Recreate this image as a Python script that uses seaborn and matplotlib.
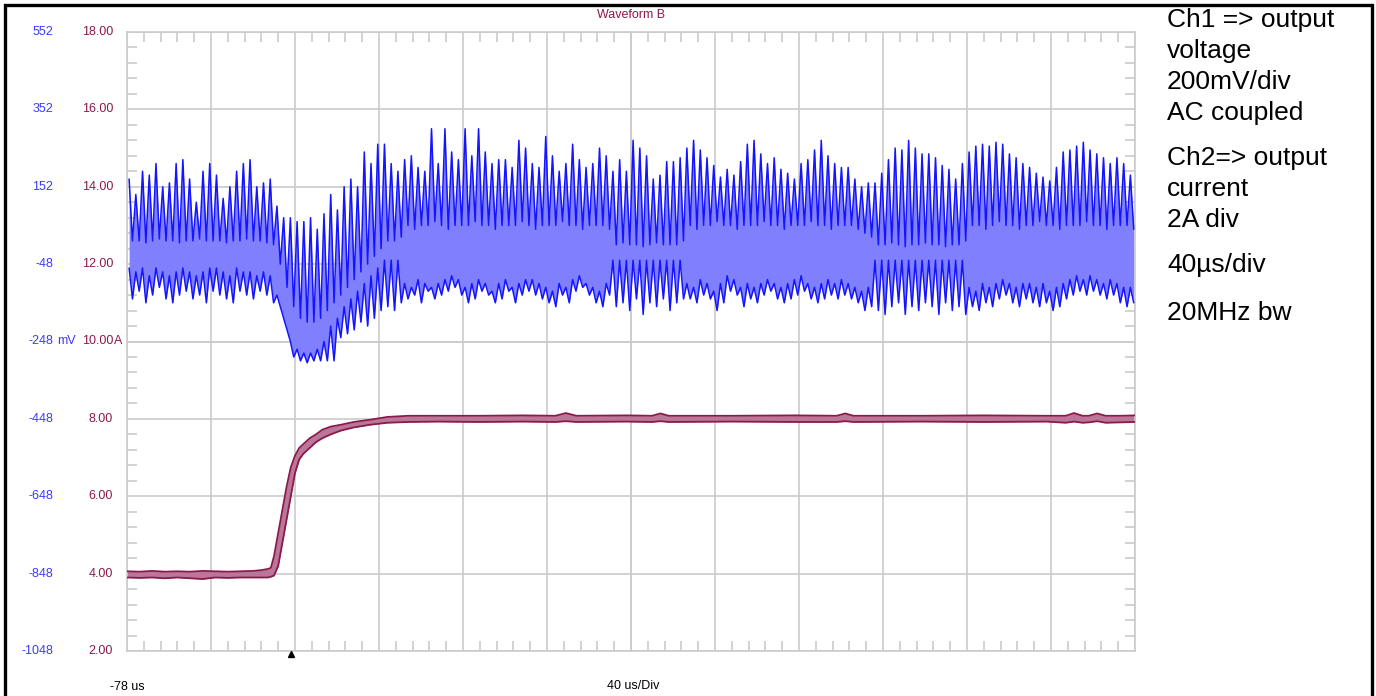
"""
Scope capture: output voltage ripple (Ch1) and output current step (Ch2)
"""

import numpy as np
import matplotlib
matplotlib.use("Agg")
import matplotlib.pyplot as plt
import matplotlib.transforms as mtransforms
from matplotlib.patches import Rectangle
from matplotlib.ticker import FixedLocator
import seaborn as sns

# ---- Ch1 (output voltage, drawn on the 2A/div scale), one entry per switching spike ----
ch1_t0 = -77.0   # us, first spike
ch1_dt = 3.2     # us between spikes

ch1_peak = [14.2, 13.8, 14.4, 14.3, 14.6, 14.0, 14.1, 14.6, 14.7, 14.2,
            13.6, 14.4, 14.6, 14.3, 13.7, 14.0, 14.4, 14.6, 14.7, 14.0,
            14.1, 14.2, 13.5, 13.2, 13.2, 13.1, 13.1, 13.2, 12.9, 13.3,
            13.8, 13.4, 14.0, 14.2, 14.0, 14.9, 14.6, 15.1,
            15.1, 14.6, 14.4, 14.7, 14.8, 14.5, 14.4, 15.5, 14.6, 15.5,
            14.9, 14.7, 15.5, 14.8, 15.5, 14.9, 14.6, 14.7, 14.7, 14.5,
            15.2, 15.0, 14.6, 14.5, 15.3, 14.8, 14.4, 14.6, 15.1, 14.7,
            14.5, 14.6, 15.0, 14.8, 14.4, 14.7, 14.4,
            15.2, 15.0, 14.8, 14.2, 14.3, 14.65, 14.65, 14.75, 15.0, 15.2,
            14.95, 14.75, 14.55, 14.25, 14.45, 14.3, 14.65, 15.1, 15.2, 14.85,
            14.6, 14.75, 14.45, 14.35, 14.2, 14.6, 14.7, 14.95, 15.2, 14.8,
            14.6, 14.5, 14.5, 14.2, 14.0, 14.1, 14.1, 14.35,
            14.7, 15.0, 14.95, 15.2, 15.0, 14.85, 14.85, 14.75, 14.55, 14.45,
            14.2, 14.6, 14.9, 15.05, 15.1, 15.05, 15.15, 15.1, 14.85, 14.75,
            14.6, 14.5, 14.35, 14.25, 14.15, 14.5, 14.9, 14.95, 15.05, 15.15,
            14.95, 14.85, 14.75, 14.6, 14.75, 14.6, 14.3]

ch1_hi_floor = [12.6, 12.6, 12.55, 12.6, 12.65, 12.6, 12.6, 12.55, 12.6, 12.6,
                12.65, 12.6, 12.6, 12.6, 12.55, 12.6, 12.6, 12.65, 12.6, 12.6,
                12.55, 12.5,
                12.0, 11.4, 10.9, 10.6, 10.5, 10.5, 10.6, 10.8, 11.0, 11.2,
                11.4, 11.6, 11.8, 12.0, 12.2, 12.4,
                12.6, 12.6, 12.7,
                13.0, 12.9, 13.0, 13.0, 13.1, 13.0, 12.9, 13.0, 13.0, 13.0,
                13.1, 13.0, 13.0, 12.9, 13.0, 13.0, 13.0, 13.1, 13.0, 12.9,
                13.0, 13.0, 13.0, 13.1, 13.0, 13.0, 12.9, 13.0, 13.0, 13.0,
                12.9,
                12.5, 12.55, 12.5, 12.5, 12.45, 12.5, 12.55, 12.5, 12.5, 12.5,
                12.6,
                13.0, 12.9, 13.0, 13.0, 13.1, 13.0, 13.0, 12.9, 13.0, 13.0,
                13.0, 13.1, 13.0, 13.0, 12.9, 13.0, 13.0, 13.0, 13.1, 13.0,
                13.0, 12.9, 13.0, 13.0, 13.0, 12.9, 12.8, 12.7,
                12.5, 12.5, 12.55, 12.5, 12.45, 12.5, 12.5, 12.55, 12.5, 12.5,
                12.45, 12.5, 12.5, 12.6,
                13.0, 13.0, 12.9, 13.0, 13.1, 13.0, 13.0, 12.9, 13.0, 13.0,
                13.1, 13.0, 13.0, 12.9, 13.0, 13.0, 13.0, 13.1, 13.0, 13.0,
                12.9, 13.0, 13.0, 13.0, 12.9]

ch1_lo_floor = [11.9, 11.8, 11.9, 11.7, 11.9, 11.8, 11.7, 11.8, 11.9, 11.8,
                11.7, 11.8, 11.9, 11.9, 11.8, 11.7, 11.9, 11.8, 11.8, 11.7,
                11.8, 11.7,
                11.2, 10.6, 10.0, 9.8, 9.7, 9.7, 9.8, 10.0, 10.4, 10.6,
                10.9, 11.1, 11.3, 11.5, 11.7, 11.9,
                12.1, 12.1, 12.1,
                11.5, 11.4, 11.6, 11.5, 11.4, 11.5, 11.6, 11.7, 11.6, 11.4,
                11.5, 11.6, 11.5, 11.3, 11.5, 11.6, 11.4, 11.5, 11.6, 11.6,
                11.5, 11.4, 11.3, 11.5, 11.4, 11.6, 11.7, 11.5, 11.4, 11.3,
                11.5,
                12.1, 12.1, 12.1, 12.1, 12.1, 12.1, 12.1, 12.1, 12.1, 12.1,
                12.1,
                11.5, 11.4, 11.6, 11.5, 11.3, 11.5, 11.7, 11.6, 11.4, 11.5,
                11.4, 11.5, 11.6, 11.5, 11.4, 11.5, 11.6, 11.7, 11.5, 11.4,
                11.5, 11.6, 11.5, 11.6, 11.5, 11.4, 11.3, 11.4,
                12.1, 12.1, 12.1, 12.1, 12.1, 12.1, 12.1, 12.1, 12.1, 12.1,
                12.1, 12.1, 12.1, 12.1,
                11.4, 11.3, 11.5, 11.4, 11.5, 11.6, 11.5, 11.4, 11.5, 11.5,
                11.4, 11.5, 11.3, 11.4, 11.5, 11.6, 11.7, 11.6, 11.7, 11.6,
                11.5, 11.6, 11.5, 11.4, 11.4]

ch1_valley = [11.1, 11.3, 11.0, 11.2, 11.4, 11.1, 11.0, 11.2, 11.3, 11.1,
              11.2, 11.0, 11.3, 11.2, 11.1, 11.0, 11.3, 11.2, 11.1, 11.3,
              11.2, 11.0,
              10.9, 10.3, 9.6, 9.5, 9.45, 9.5, 9.5, 9.5, 9.5, 10.1,
              10.2, 10.3, 10.5, 10.4, 10.6, 10.8,
              10.9, 10.8, 11.0,
              11.1, 11.2, 11.0, 11.3, 11.1, 11.2, 11.3, 11.4, 11.2, 11.0,
              11.1, 11.3, 11.2, 11.0, 11.1, 11.3, 11.0, 11.2, 11.3, 11.2,
              11.1, 11.0, 10.9, 11.2, 11.0, 11.3, 11.4, 11.2, 11.0, 10.9,
              11.2,
              10.9, 11.0, 10.8, 11.1, 10.7, 11.0, 10.9, 11.1, 10.8, 11.0,
              11.1,
              11.1, 11.0, 11.2, 11.1, 10.8, 11.0, 11.3, 11.2, 10.9, 11.1,
              11.0, 11.2, 11.3, 11.1, 11.0, 11.1, 11.2, 11.3, 11.1, 11.0,
              11.1, 11.2, 11.1, 11.2, 11.1, 11.0, 10.8, 10.9,
              10.8, 10.7, 10.9, 11.0, 10.7, 10.9, 10.8, 11.0, 10.9, 10.7,
              11.0, 10.8, 10.9, 10.7,
              10.9, 10.8, 11.0, 10.9, 11.1, 11.2, 11.0, 10.9, 11.1, 11.0,
              10.9, 11.0, 10.8, 10.9, 11.1, 11.2, 11.3, 11.2, 11.3, 11.2,
              11.1, 11.2, 11.0, 10.9, 11.0]

# ---- Ch2 (output current, A): upper / lower edge of the trace band ----
ch2_t = [-78, -72, -66, -60, -54, -48, -42, -36, -30, -24, -18, -14, -11, -9.5,
         -8, -6, -4, -2, 0, 2, 4, 6, 9, 12, 15, 19, 24, 30, 38, 46, 56, 70,
         90, 110, 126, 131, 136, 160, 172, 176, 180, 210, 240, 260, 264, 268,
         300, 330, 360, 369, 373, 377, 380, 384, 388, 395, 402]
ch2_hi = [4.06, 4.05, 4.07, 4.05, 4.06, 4.05, 4.07, 4.06, 4.05, 4.06, 4.07, 4.09, 4.12, 4.15,
          4.45, 5.05, 5.65, 6.25, 6.75, 7.05, 7.25, 7.35, 7.5, 7.6, 7.72, 7.8, 7.85, 7.92, 7.98, 8.05, 8.08, 8.08,
          8.08, 8.09, 8.08, 8.15, 8.08, 8.09, 8.08, 8.14, 8.08, 8.08, 8.09, 8.08, 8.14, 8.08,
          8.08, 8.09, 8.08, 8.08, 8.15, 8.08, 8.08, 8.14, 8.08, 8.08, 8.09]
ch2_lo = [3.90, 3.89, 3.90, 3.88, 3.90, 3.88, 3.86, 3.90, 3.89, 3.90, 3.90, 3.90, 3.90, 3.92,
          3.95, 4.2, 4.8, 5.4, 6.0, 6.6, 6.95, 7.1, 7.25, 7.4, 7.5, 7.6, 7.7, 7.78, 7.85, 7.9, 7.92, 7.93,
          7.92, 7.93, 7.92, 7.94, 7.92, 7.93, 7.92, 7.94, 7.92, 7.93, 7.92, 7.92, 7.94, 7.92,
          7.93, 7.92, 7.93, 7.90, 7.93, 7.90, 7.91, 7.94, 7.90, 7.91, 7.92]

# ---- axis labels ----
amp_ticks = [2, 4, 6, 8, 10, 12, 14, 16, 18]
amp_labels = ['2.00', '4.00', '6.00', '8.00', '10.00', '12.00', '14.00', '16.00', '18.00']
mv_labels = ['-1048', '-848', '-648', '-448', '-248', '-48', '152', '352', '552']
notes = [("Ch1 => output", 20), ("voltage", 51), ("200mV/div", 82), ("AC coupled", 113),
         ("Ch2=> output", 158), ("current", 189), ("2A div", 220),
         ("40\u00b5s/div", 265), ("20MHz bw", 313)]

W, H = 1376, 696
BLUE_LINE = '#1414ff'
BLUE_FILL = '#8080ff'
BLUE_TEXT = '#3a3aff'
MAROON = '#8b1a4b'
MAROON_FILL = '#bb7799'
GRID = '#cbcbcb'

sns.set_style("white")
plt.rcParams['font.family'] = ['Liberation Sans', 'DejaVu Sans']

fig = plt.figure(figsize=(W / 100, H / 100), dpi=100)
rect = [127 / W, 1 - 651 / H, (1135 - 127) / W, (651 - 32) / H]
xlim = (-78, 402)
ylim = (2, 18)
minor_x = np.arange(-78, 402.1, 8)
minor_y = np.arange(2, 18.01, 0.4)

# background axes: just the centre cross with its small ticks
axc = fig.add_axes(rect)
axc.set_xlim(*xlim)
axc.set_ylim(*ylim)
axc.patch.set_visible(False)
axc.spines['top'].set_visible(False)
axc.spines['right'].set_visible(False)
axc.spines['left'].set_position(('data', 162))
axc.spines['bottom'].set_position(('data', 10))
for s in ('left', 'bottom'):
    axc.spines[s].set_color(GRID)
    axc.spines[s].set_linewidth(1.2)
axc.set_xticks([])
axc.set_yticks([])
axc.xaxis.set_minor_locator(FixedLocator(minor_x))
axc.yaxis.set_minor_locator(FixedLocator(minor_y))
axc.tick_params(which='minor', direction='inout', length=14, width=1.2, color=GRID,
                labelbottom=False, labelleft=False)

# main axes
ax = fig.add_axes(rect)
ax.patch.set_visible(False)
ax.set_xlim(*xlim)
ax.set_ylim(*ylim)
ax.set_xticks(np.arange(-78, 402.1, 40))
ax.set_yticks(amp_ticks)
ax.set_xticklabels([])
ax.set_yticklabels([])
ax.grid(True, color=GRID, linewidth=1.2)
ax.set_axisbelow(True)
ax.tick_params(which='major', length=0)
ax.xaxis.set_minor_locator(FixedLocator(minor_x))
ax.yaxis.set_minor_locator(FixedLocator(minor_y))
ax.tick_params(which='minor', direction='in', length=7, width=1.2, color=GRID,
               top=True, bottom=True, left=True, right=True)
for s in ax.spines.values():
    s.set_color(GRID)
    s.set_linewidth(1.2)

# Ch1: max/min envelope of the ripple
n = len(ch1_peak)
t_spk = ch1_t0 + ch1_dt * np.arange(n)
t1 = np.column_stack([t_spk, t_spk + ch1_dt / 2]).ravel()
upper = np.column_stack([ch1_peak, ch1_hi_floor]).ravel()
lower = np.column_stack([ch1_lo_floor, ch1_valley]).ravel()
ax.fill_between(t1, lower, upper, color=BLUE_FILL, linewidth=0, zorder=2)
sns.lineplot(x=t1, y=upper, ax=ax, color=BLUE_LINE, linewidth=1.1,
             estimator=None, sort=False, zorder=3)
sns.lineplot(x=t1, y=lower, ax=ax, color=BLUE_LINE, linewidth=1.1,
             estimator=None, sort=False, zorder=3)

# Ch2: current band
ax.fill_between(ch2_t, ch2_lo, ch2_hi, color=MAROON_FILL, linewidth=0, zorder=2)
sns.lineplot(x=ch2_t, y=ch2_hi, ax=ax, color=MAROON, linewidth=1.3,
             estimator=None, sort=False, zorder=3)
sns.lineplot(x=ch2_t, y=ch2_lo, ax=ax, color=MAROON, linewidth=1.3,
             estimator=None, sort=False, zorder=3)

# trigger marker
ax.plot([0], [1.93], marker='^', markersize=4, color='black', clip_on=False, zorder=5)

# left label columns
trans = mtransforms.blended_transform_factory(fig.transFigure, ax.transData)
for v, amp, mv in zip(amp_ticks, amp_labels, mv_labels):
    ax.text(113 / W, v, amp, transform=trans, ha='right', va='center',
            color=MAROON, fontsize=9)
    ax.text(53 / W, v, mv, transform=trans, ha='right', va='center',
            color=BLUE_TEXT, fontsize=9)
ax.text(114 / W, 10, 'A', transform=trans, ha='left', va='center', color=MAROON, fontsize=9)
ax.text(57 / W, 10, 'mV', transform=trans, ha='left', va='center', color=BLUE_TEXT, fontsize=9)

# bottom / top captions
fig.text(110 / W, 1 - 687 / H, '-78 us', ha='left', va='center', fontsize=9, color='black')
fig.text(633 / W, 1 - 686 / H, '40 us/Div', ha='center', va='center', fontsize=9, color='black')
fig.text(631 / W, 1 - 15 / H, 'Waveform B', ha='center', va='center', fontsize=9, color=MAROON)

# notes on the right
for txt, y in notes:
    fig.text(1167 / W, 1 - y / H, txt, ha='left', va='center', fontsize=19, color='black')

# outer frame
fig.patches.append(Rectangle((5 / W, -0.02), (1371.5 - 5) / W, 1.02 - 5 / H,
                             transform=fig.transFigure, fill=False,
                             edgecolor='black', linewidth=2.4))

fig.savefig('out.png', dpi=100)
